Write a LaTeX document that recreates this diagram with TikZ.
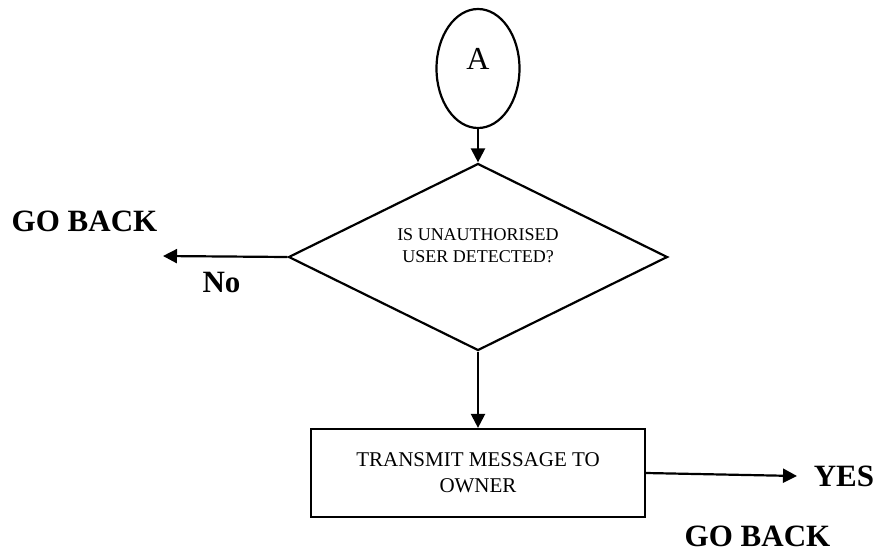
\documentclass[tikz,border=0pt]{standalone}
\usepackage{fontspec}
\setmainfont{Liberation Serif}
\usetikzlibrary{arrows.meta, positioning, shapes.geometric}

\begin{document}
\begin{tikzpicture}[x=1pt, y=-1pt, line width=2.2pt,
  every node/.style={inner sep=0pt},
  flowline/.style={-{Triangle[length=14pt,width=14pt]}},
  answer/.style={font=\fontsize{31}{36}\selectfont\bfseries}]
  \useasboundingbox (0,0) rectangle (878,555);
  % Connector, decision and action
  \node[draw, ellipse, minimum width=83pt, minimum height=119pt,
        font=\fontsize{32}{36}\selectfont] (conA) at (478,68.5)
        {\raisebox{-1pt}[0pt][0pt]{A}};
  \node[draw, diamond, aspect=2, minimum width=379pt, minimum height=187pt,
        align=center, font=\fontsize{18}{22}\selectfont] (detect) at (478,257)
        {IS UNAUTHORISED\\USER DETECTED?\\\mbox{}};
  \node[draw, rectangle, minimum width=334pt, minimum height=88pt,
        align=center, font=\fontsize{21}{26}\selectfont] (notify) at (478,473)
        {TRANSMIT MESSAGE TO\\OWNER};
  % Free ends
  \coordinate (goLeft) at (163,256);
  \coordinate (goRight) at (797,476);
  % Connectors
  \draw[flowline] (conA.south) -- (detect.north);
  \draw[flowline] (detect.west) -- (goLeft);
  \draw[flowline] (detect.south) -- (notify.north);
  \draw[flowline] (notify.east) -- (goRight);
  % Answer labels
  \node[answer] (backNo) at (84.5,221.5) {GO BACK};
  \node[answer] (ansNo) at (221.5,282.5) {No};
  \node[answer] (ansYes) at (844,476) {YES};
  \node[answer] (backYes) at (757.5,536) {GO BACK};
\end{tikzpicture}
\end{document}
